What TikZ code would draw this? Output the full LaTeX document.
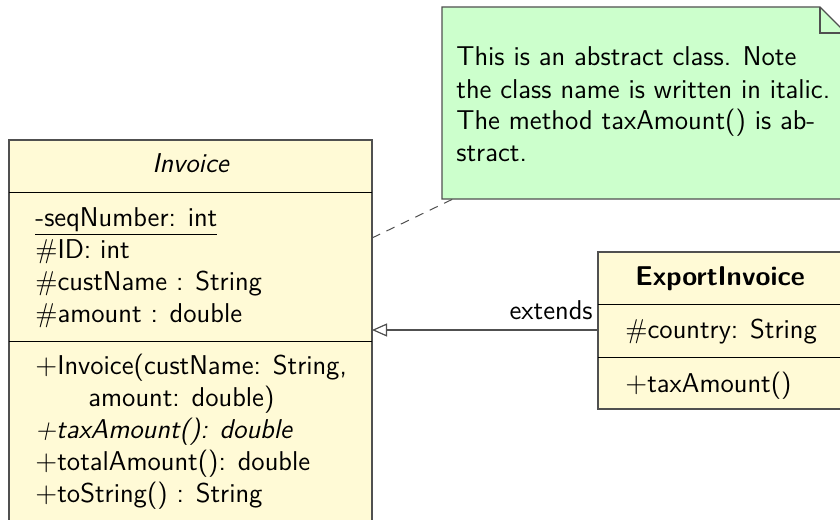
\documentclass[tikz,border=0pt]{standalone}
\usepackage{fontspec}
\usetikzlibrary{arrows.meta}
\definecolor{classyellow}{RGB}{255,250,214}
\definecolor{notegreen}{RGB}{204,255,204}
\definecolor{edgegray}{RGB}{80,80,80}
\newcommand{\umlfont}{\sffamily\fontsize{13.6}{16}\selectfont}
\tikzset{
  box/.style={draw=edgegray, fill=classyellow, line width=0.6pt, anchor=north west, inner sep=0pt, outer sep=0pt},
  txt/.style={anchor=base west, inner sep=0pt, font=\umlfont},
  ctxt/.style={anchor=base, inner sep=0pt, font=\umlfont},
  sepline/.style={draw=black, line width=0.5pt},
  notetxt/.style={anchor=base west, inner sep=0pt, font=\umlfont},
}
\begin{document}
\begin{tikzpicture}[x=0.5pt,y=-0.5pt]
\useasboundingbox (0,0) rectangle (840,519);
\clip (0,0) rectangle (840,519);

% Note
\node[anchor=north west, minimum width=202pt, minimum height=96pt, inner sep=0pt, outer sep=0pt] (note) at (442,7) {};
\draw[draw=edgegray, fill=notegreen, line width=0.6pt]
  (note.north west) -- ++(378,0) coordinate (fold) -- ++(26,26) -- (note.south east) -- (note.south west) -- cycle;
\draw[draw=edgegray, line width=0.6pt] (fold) -- ++(0,26) -- ++(26,0);
\node[notetxt] (n1) at (456,66) {This is an abstract class. Note};
\node[notetxt] (n2) at (456,98) {the class name is written in italic.};
\node[notetxt] (n3) at (456,130) {The method taxAmount() is ab-};
\node[notetxt] (n4) at (456,162) {stract.};

% Invoice
\node[box, minimum width=181.5pt, minimum height=210pt] (inv) at (9,140) {};
\draw[sepline] (9,192) -- (372,192);
\draw[sepline] (9,341) -- (372,341);
\node[ctxt] (invt) at (190.5,172) {\itshape Invoice};
\node[txt] (a1) at (35,226) {\underline{-seqNumber: int}};
\node[txt] (a2) at (35,258) {$\#$ID: int};
\node[txt] (a3) at (35,290) {$\#$custName : String};
\node[txt] (a4) at (35,322) {$\#$amount : double};
\node[txt] (m1) at (35,374) {$+$Invoice(custName: String,};
\node[txt] (m2) at (88,406) {amount: double)};
\node[txt] (m3) at (35,438) {\itshape +taxAmount(): double};
\node[txt] (m4) at (35,470) {$+$totalAmount(): double};
\node[txt] (m5) at (35,502) {$+$toString() : String};

% ExportInvoice
\node[box, minimum width=122pt, minimum height=78.5pt] (exp) at (598,252) {};
\draw[sepline] (598,304) -- (842,304);
\draw[sepline] (598,357) -- (842,357);
\node[ctxt] (expt) at (720,285) {\bfseries ExportInvoice};
\node[txt] (e1) at (625,338) {$\#$country: String};
\node[txt] (e2) at (625,392) {$+$taxAmount()};

% Connectors
\draw[edgegray, line width=0.6pt, -{Triangle[open, length=7.5pt, width=6.5pt]}]
  (exp.west |- 0,330) -- (inv.east |- 0,330);
\node[anchor=base east, inner sep=0pt, font=\umlfont] (ext) at (593,319) {extends};
\draw[edgegray, line width=0.5pt, dash pattern=on 4.5pt off 3.5pt]
  (inv.east |- 0,238) -- ([xshift=5.5pt]note.south west);
\end{tikzpicture}
\end{document}
